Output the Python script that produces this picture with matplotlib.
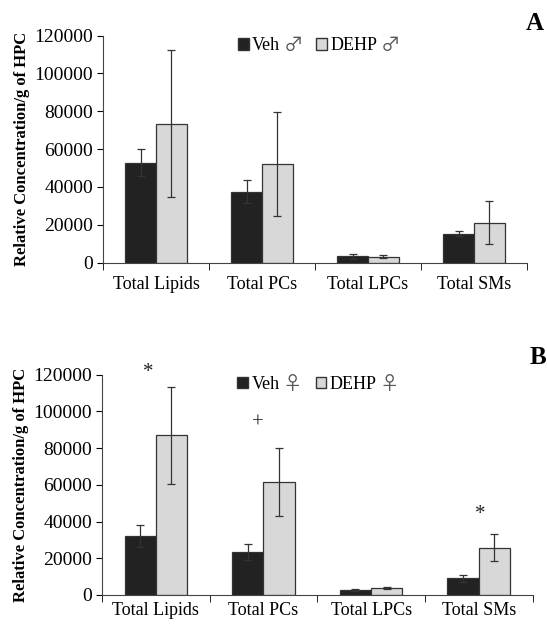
import numpy as np
import matplotlib
matplotlib.use("Agg")
import matplotlib.pyplot as plt
from matplotlib.patches import Patch

plt.rcParams['font.family'] = ['Liberation Serif', 'DejaVu Sans']

categories = ["Total Lipids", "Total PCs", "Total LPCs", "Total SMs"]

# panel A: males
veh_m = [52800, 37500, 3300, 15200]
veh_m_err = [7300, 6300, 1400, 1200]
dehp_m = [73400, 52100, 3100, 21100]
dehp_m_err = [39000, 27500, 700, 11200]

# panel B: females
veh_f = [32200, 23300, 2500, 9000]
veh_f_err = [6000, 4500, 500, 1700]
dehp_f = [86900, 61500, 4000, 25700]
dehp_f_err = [26200, 18500, 500, 7400]

# significance marks (panel B): (category index, offset, y, symbol)
marks_b = [(0, -0.066, 121000, "*"), (1, -0.056, 93800, "+"), (3, 0.01, 44000, "*")]

dark = "#222222"
light = "#d8d8d8"
edge = "#333333"
w = 0.29


def draw_panel(ax, veh, veh_err, dehp, dehp_err, leg_x, letter, letter_xy, xpad):
    x = np.arange(len(categories))
    ekw = dict(elinewidth=0.9, capthick=0.9, ecolor="#333333")
    ax.bar(x - w / 2, veh, w, color=dark, edgecolor=edge, linewidth=0.9,
           yerr=veh_err, capsize=3, error_kw=ekw)
    ax.bar(x + w / 2, dehp, w, color=light, edgecolor=edge, linewidth=0.9,
           yerr=dehp_err, capsize=3, error_kw=ekw)
    ax.set_xlim(-0.5, len(categories) - 0.5)
    ax.set_ylim(0, 120000)
    ax.set_yticks(np.arange(0, 120001, 20000))
    ax.set_xticks(x)
    ax.set_xticklabels(categories, fontsize=13)
    ax.set_xticks(np.arange(-0.5, len(categories), 1.0), minor=True)
    ax.tick_params(axis="x", which="major", length=0, pad=xpad)
    ax.tick_params(axis="x", which="minor", length=5, direction="out")
    ax.tick_params(axis="y", length=4, direction="out", labelsize=14, pad=3)
    for s in ["top", "right"]:
        ax.spines[s].set_visible(False)
    for s in ["left", "bottom"]:
        ax.spines[s].set_color("#444444")
    ax.set_ylabel("Relative Concentration/g of HPC", fontsize=12,
                  fontweight="bold", labelpad=3)
    handles = [Patch(facecolor=dark, edgecolor=edge, label="Veh"),
               Patch(facecolor=light, edgecolor=edge, label="DEHP")]
    leg = ax.legend(handles=handles, loc="center", bbox_to_anchor=(leg_x, 0.955),
                    ncol=2, frameon=False, fontsize=13, handlelength=0.6,
                    handleheight=0.6, handletextpad=0.2, columnspacing=2.0,
                    borderpad=0)
    fig.text(letter_xy[0], letter_xy[1], letter, fontsize=18,
             fontweight="bold", ha="center", va="center")
    return leg


fig = plt.figure(figsize=(5.47, 6.24), dpi=100)
ax1 = fig.add_axes([0.1883, 0.5793, 0.775, 0.3638])
ax2 = fig.add_axes([0.1865, 0.0465, 0.787, 0.353])

leg1 = draw_panel(ax1, veh_m, veh_m_err, dehp_m, dehp_m_err, 0.483, "A",
                  (535 / 547, 1 - 24 / 624), 10)
leg2 = draw_panel(ax2, veh_f, veh_f_err, dehp_f, dehp_f_err, 0.476, "B",
                  (538 / 547, 1 - 357 / 624), 5)

for i, off, y, s in marks_b:
    ax2.text(i + off, y, s, ha="center", va="center", fontsize=15,
             color="#222222", clip_on=False)

# sex symbols after each legend label
fig.canvas.draw()
renderer = fig.canvas.get_renderer()
W, H = fig.bbox.width, fig.bbox.height
for leg, sym in [(leg1, "\u2642"), (leg2, "\u2640")]:
    for t in leg.get_texts():
        bb = t.get_window_extent(renderer)
        fig.text((bb.x1 + 3) / W, (bb.y0 + bb.y1) / 2 / H, sym,
                 family=["Noto Sans CJK JP", "DejaVu Sans"], fontsize=14,
                 color="#555555", ha="left", va="center")

fig.savefig("out.png", dpi=100)
